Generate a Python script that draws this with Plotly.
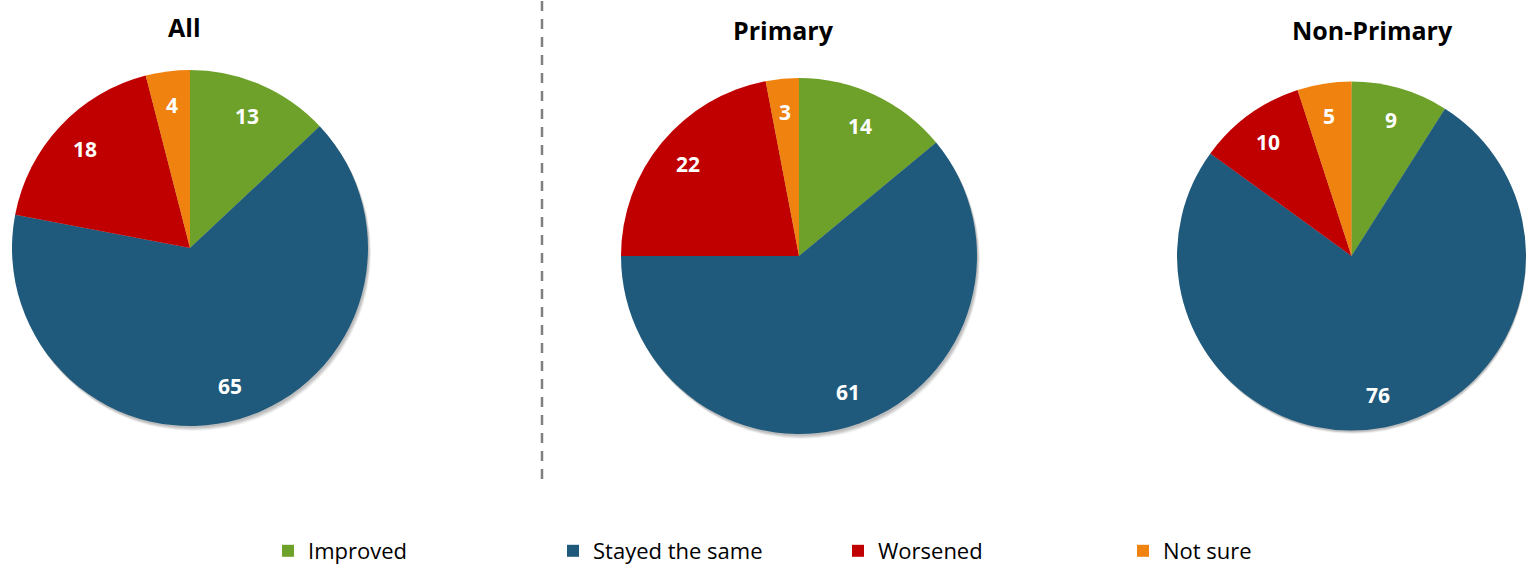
import math
import plotly.graph_objects as go

categories = ["Improved", "Stayed the same", "Worsened", "Not sure"]
colors = ["#6EA12A", "#1F5A7C", "#C00000", "#F0820F"]

panel_titles = ["All", "Primary", "Non-Primary"]
values_all = [13, 65, 18, 4]
values_primary = [14, 61, 22, 3]
values_nonprimary = [9, 76, 10, 5]

W, H = 1526, 566
FONT = "Open Sans"

# pie boxes in pixel space (left, top, right, bottom)
boxes = [(12, 70, 368, 426), (621, 78, 977, 434), (1177, 78, 1526, 434)]
title_pos = [(184, 27), (783, 30), (1372, 30)]
LABEL_R = 0.81  # label radius as fraction of pie radius


def dom(box, dx=0, dy=0):
    l, t, r, b = box
    return dict(x=[max(0, (l + dx) / W), min(1, (r + dx) / W)],
                y=[max(0, 1 - (b + dy) / H), min(1, 1 - (t + dy) / H)])


fig = go.Figure()

# soft drop shadows
for box in boxes:
    for off, op in [(5, 0.05), (4, 0.07), (3, 0.08), (2, 0.08)]:
        fig.add_trace(go.Pie(values=[1], labels=["shadow"], domain=dom(box, off * 0.6, off),
                             marker=dict(colors=[f"rgba(0,0,0,{op})"], line=dict(width=0)),
                             textinfo="none", hoverinfo="skip", showlegend=False, sort=False))

annotations = []
for i, vals in enumerate([values_all, values_primary, values_nonprimary]):
    fig.add_trace(go.Pie(
        labels=categories, values=vals, domain=dom(boxes[i]),
        marker=dict(colors=colors, line=dict(width=0)),
        sort=False, direction="clockwise", rotation=0,
        textinfo="none",
        showlegend=(i == 0), name=panel_titles[i],
    ))
    # data labels placed at mid-angle of each slice, computed from the values
    l, t, r, b = boxes[i]
    cx, cy = (l + r) / 2, (t + b) / 2
    R = min(r - l, b - t) / 2
    total = sum(vals)
    cum = 0
    for v in vals:
        mid = (cum + v / 2) / total * 2 * math.pi
        cum += v
        px = cx + LABEL_R * R * math.sin(mid)
        py = cy - LABEL_R * R * math.cos(mid)
        annotations.append(dict(text=f"<b>{v}</b>", x=px / W, y=1 - py / H, xref="paper", yref="paper",
                                showarrow=False, xanchor="center", yanchor="middle",
                                font=dict(family=FONT, size=21, color="white")))

for tt, (x, y) in zip(panel_titles, title_pos):
    annotations.append(dict(text=f"<b>{tt}</b>", x=x / W, y=1 - y / H, xref="paper", yref="paper",
                            showarrow=False, xanchor="center", yanchor="middle",
                            font=dict(family=FONT, size=25, color="black")))

fig.update_layout(
    width=W, height=H,
    margin=dict(l=0, r=0, t=0, b=0, autoexpand=False),
    paper_bgcolor="white", plot_bgcolor="white",
    annotations=annotations,
    shapes=[dict(type="line", xref="paper", yref="paper", x0=542 / W, x1=542 / W,
                 y0=1 - 479 / H, y1=1.0,
                 line=dict(color="#808080", width=2.5, dash="10px,8px"))],
    legend=dict(orientation="h", x=268 / W, y=1 - 551 / H, xanchor="left", yanchor="middle",
                font=dict(family=FONT, size=22, color="black"),
                entrywidth=240, entrywidthmode="pixels", traceorder="normal"),
)

fig.write_html("out.html", config={"displayModeBar": False},
               post_script="document.body.style.margin='0';document.body.style.overflow='hidden';")
